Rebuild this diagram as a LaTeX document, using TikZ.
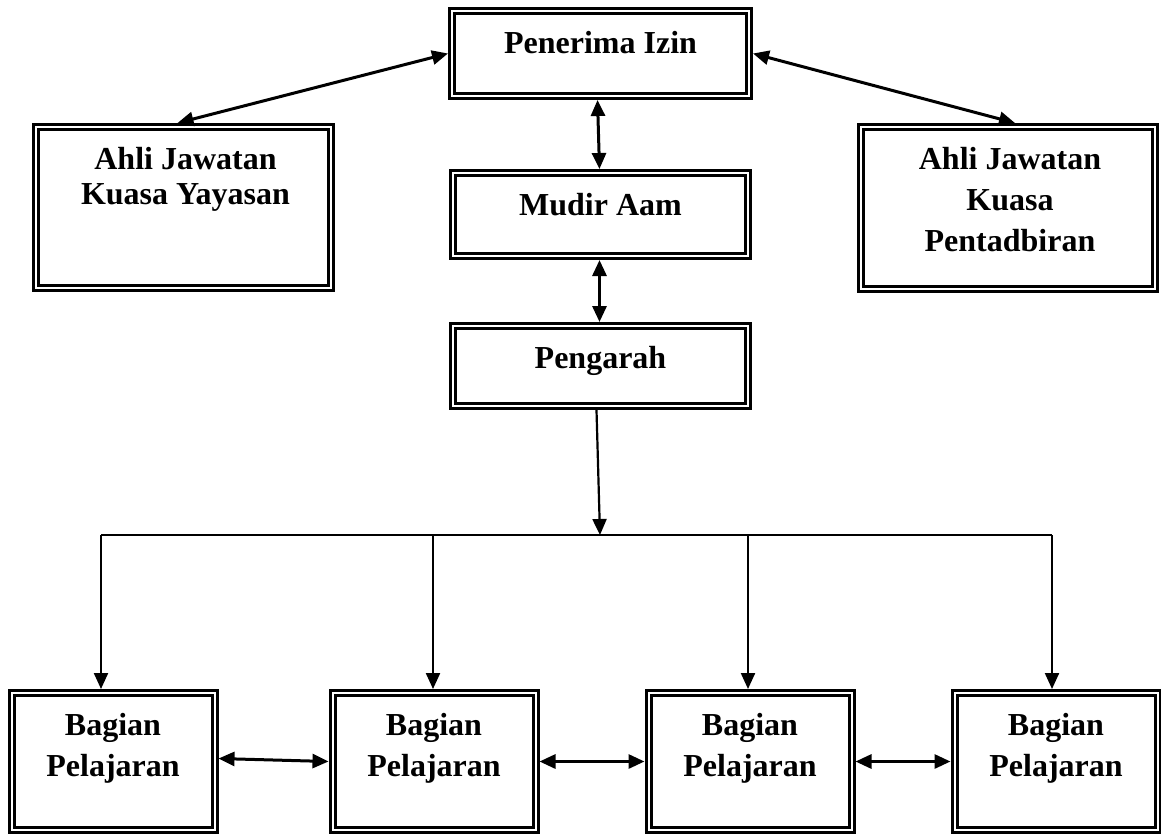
\documentclass[tikz,border=0pt]{standalone}
\usepackage{fontspec}
\setmainfont{Liberation Serif}
\usetikzlibrary{arrows.meta}

\begin{document}
\begin{tikzpicture}[x=1pt,y=-1pt,
    kotak/.style={draw,double,double distance=2pt,line width=3pt,outer sep=4pt,inner sep=0pt},
    tulis/.style={anchor=north,align=center,inner sep=0pt,font=\bfseries\fontsize{32}{41}\selectfont},
    panah/.style={line width=2.2pt,-{Triangle[length=16pt,width=14pt]}},
    duapanah/.style={line width=3pt,{Triangle[length=16pt,width=14pt]}-{Triangle[length=16pt,width=14pt]}}]
  \useasboundingbox (0,0) rectangle (1161,836);
  % kotak atas
  \node[kotak,minimum width=297pt,minimum height=85pt] (izin) at (600.5,53.5) {};
  \node[kotak,minimum width=295pt,minimum height=161pt] (yayasan) at (183.5,207.5) {};
  \node[kotak,minimum width=294pt,minimum height=162pt] (tadbir) at (1008,208) {};
  \node[kotak,minimum width=295pt,minimum height=83pt] (mudir) at (600.5,214.5) {};
  \node[kotak,minimum width=295pt,minimum height=80pt] (pengarah) at (600.5,366) {};
  \node[tulis] (izin-t) at ([yshift=-24pt]izin.north) {Penerima Izin};
  \node[tulis] (yayasan-t) at ([yshift=-24pt,xshift=2pt]yayasan.north) {Ahli Jawatan\\[-6pt]Kuasa Yayasan};
  \node[tulis] (tadbir-t) at ([yshift=-24pt,xshift=2pt]tadbir.north) {Ahli Jawatan\\Kuasa\\Pentadbiran};
  \node[tulis] (mudir-t) at ([yshift=-24pt]mudir.north) {Mudir Aam};
  \node[tulis] (pengarah-t) at ([yshift=-24pt]pengarah.north) {Pengarah};
  % kotak bawah
  \def\bx{113,434,750,1056}
  \foreach \x [count=\i from 1] in \bx {
    \node[kotak,minimum width=203pt,minimum height=137pt] (b\i) at (\x,761.5) {};
    \node[tulis] (b\i-t) at ([yshift=-24pt]b\i.north) {Bagian\\Pelajaran};
  }
  % garis
  \draw[duapanah] (izin.west) -- ([xshift=-6pt]yayasan.north);
  \draw[duapanah] (izin.east) -- ([xshift=7pt]tadbir.north);
  \draw[duapanah] ([xshift=-3pt]izin.south) -- ([xshift=-1pt]mudir.north);
  \draw[duapanah] ([xshift=-1pt]mudir.south) -- ([xshift=-1pt]pengarah.north);
  \coordinate (cabang) at (600,535);
  \draw[panah] ([xshift=-4pt]pengarah.south) -- (cabang);
  \draw[line width=2.2pt] ([xshift=-12pt]b1.north |- cabang) -- ([xshift=-4pt]b4.north |- cabang);
  \foreach \s [count=\i from 1] in {-12,-1,-2,-4}
    \draw[panah] ([xshift=\s pt]b\i.north |- cabang) -- ([xshift=\s pt]b\i.north);
  \draw[duapanah] ([yshift=3pt]b1.east) -- (b2.west);
  \draw[duapanah] (b2.east) -- (b3.west);
  \draw[duapanah] (b3.east) -- (b4.west);
\end{tikzpicture}
\end{document}
